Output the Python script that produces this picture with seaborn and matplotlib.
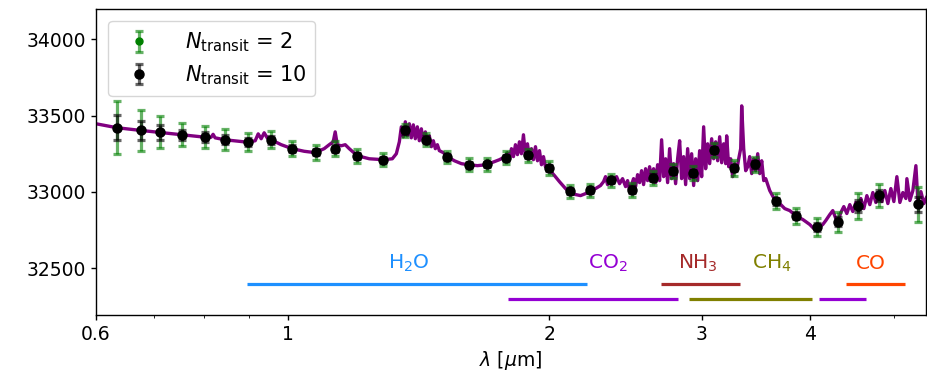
import numpy as np
import pandas as pd
import matplotlib
matplotlib.use("Agg")
import matplotlib.pyplot as plt
import matplotlib.ticker as mticker
from matplotlib.colors import to_rgba
import seaborn as sns

# ==========================================
# 1. DATA
# ==========================================
# high-resolution model spectrum: wavelength [um], transit depth [ppm]
spec_wl = [
    0.600, 0.6345, 0.6744, 0.7094, 0.7541, 0.8017, 0.8146, 0.8189, 0.8233, 0.8455,
    0.8989, 0.9158, 0.9231, 0.9305, 0.9379, 0.9454, 0.9555, 0.9813, 1.0103, 1.0430,
    1.0740, 1.0999, 1.1148, 1.1266, 1.1326, 1.1388, 1.1509, 1.1632, 1.1757, 1.2011,
    1.2400, 1.2869, 1.3181, 1.3323, 1.3430, 1.3501, 1.3573, 1.3645, 1.3718, 1.3791,
    1.3864, 1.3938, 1.4012, 1.4087, 1.4162, 1.4238, 1.4313, 1.4391, 1.4467, 1.4544,
    1.4622, 1.4699, 1.4778, 1.4857, 1.4936, 1.5095, 1.5257, 1.5544, 1.5836, 1.6134,
    1.6525, 1.6925, 1.7289, 1.7520, 1.7802, 1.7897, 1.7992, 1.8088, 1.8184, 1.8281,
    1.8379, 1.8476, 1.8575, 1.8674, 1.8774, 1.8874, 1.8974, 1.9075, 1.9177, 1.9280,
    1.9383, 1.9486, 1.9590, 1.9694, 1.9799, 1.9958, 2.0279, 2.0550, 2.0882, 2.1161,
    2.1444, 2.1730, 2.2022, 2.2316, 2.2615, 2.2917, 2.3100, 2.3224, 2.3348, 2.3535,
    2.3723, 2.3914, 2.4105, 2.4298, 2.4493, 2.4623, 2.4754, 2.4886, 2.5018, 2.5152,
    2.5287, 2.5421, 2.5557, 2.5693, 2.5830, 2.5968, 2.6106, 2.6245, 2.6385, 2.6526,
    2.6668, 2.6810, 2.6953, 2.7097, 2.7241, 2.7387, 2.7532, 2.7679, 2.7827, 2.7975,
    2.8125, 2.8275, 2.8425, 2.8577, 2.8729, 2.8883, 2.9037, 2.9191, 2.9347, 2.9503,
    2.9661, 2.9819, 2.9978, 3.0137, 3.0298, 3.0460, 3.0622, 3.0785, 3.0949, 3.1114,
    3.1281, 3.1447, 3.1615, 3.1783, 3.1953, 3.2039, 3.2209, 3.2381, 3.2553, 3.2727,
    3.2902, 3.3077, 3.3253, 3.3342, 3.3519, 3.3699, 3.3879, 3.4059, 3.4240, 3.4423,
    3.4607, 3.4791, 3.4976, 3.5163, 3.5350, 3.5540, 3.5920, 3.6498, 3.6887, 3.7382,
    3.7882, 3.8594, 3.9214, 3.9951, 4.0486, 4.0919, 4.1355, 4.1687, 4.2133, 4.2470,
    4.2811, 4.3039, 4.3384, 4.3730, 4.4082, 4.4434, 4.4789, 4.5150, 4.5390, 4.5753,
    4.6118, 4.6490, 4.6861, 4.7236, 4.7616, 4.7997, 4.8381, 4.8768, 4.9159, 4.9552,
    4.9949, 5.0350, 5.0752, 5.1158, 5.1570, 5.1707, 5.2120, 5.2537, 5.2959, 5.3242,
    5.3668, 5.4097, 5.4532,
]
spec_depth = [
    33446, 33420, 33403, 33390, 33374, 33358, 33358, 33377, 33354, 33341,
    33325, 33335, 33380, 33348, 33387, 33354, 33341, 33309, 33283, 33266,
    33257, 33283, 33309, 33328, 33393, 33309, 33302, 33309, 33283, 33237,
    33217, 33211, 33217, 33250, 33328, 33426, 33361, 33459, 33367, 33446,
    33354, 33439, 33348, 33426, 33335, 33413, 33328, 33393, 33309, 33367,
    33296, 33335, 33283, 33309, 33270, 33257, 33231, 33204, 33185, 33178,
    33172, 33178, 33198, 33211, 33231, 33257, 33217, 33283, 33231, 33309,
    33244, 33328, 33250, 33374, 33237, 33315, 33224, 33283, 33211, 33296,
    33204, 33270, 33178, 33231, 33165, 33152, 33107, 33067, 33022, 32996,
    32983, 32976, 32989, 33009, 33022, 33042, 33067, 33100, 33048, 33074,
    33061, 33100, 33054, 33087, 33035, 33074, 33009, 33048, 33087, 33035,
    33113, 33061, 33139, 33048, 33152, 33074, 33165, 33087, 33152, 33061,
    33178, 33074, 33341, 33100, 33217, 33061, 33283, 33087, 33185, 33054,
    33217, 33335, 33087, 33231, 33048, 33283, 33087, 33250, 33042, 33217,
    33074, 33270, 33100, 33426, 33152, 33315, 33185, 33348, 33217, 33328,
    33204, 33361, 33191, 33315, 33185, 33367, 33165, 33217, 33100, 33185,
    33139, 33217, 33283, 33563, 33283, 33139, 33165, 33231, 33120, 33217,
    33139, 33250, 33120, 33204, 33074, 33087, 33009, 32937, 32924, 32891,
    32878, 32839, 32820, 32787, 32754, 32767, 32787, 32813, 32852, 32878,
    32826, 32807, 32865, 32904, 32859, 32917, 32872, 32931, 32904, 32957,
    32891, 32976, 32917, 32996, 32931, 32983, 32937, 33009, 32924, 33022,
    32937, 33100, 32931, 32996, 32957, 33087, 32944, 33009, 33172, 32937,
    33002, 32924, 32970,
]

# binned points
bin_wl = [
    0.6345, 0.6753, 0.7105, 0.7541, 0.8017, 0.8449, 0.8996, 0.9555, 1.0110, 1.0762,
    1.1306, 1.2001, 1.2858, 1.3628, 1.4417, 1.5245, 1.6146, 1.6938, 1.7835, 1.8924,
    1.9973, 2.1144, 2.2298, 2.3580, 2.4890, 2.6313, 2.7775, 2.9293, 3.0949, 3.2668,
    3.4578, 3.6498, 3.8564, 4.0702, 4.3039, 4.5426, 4.7997, 5.3200,
]
bin_depth = [
    33420, 33402, 33392, 33374, 33359, 33343, 33327, 33341, 33283, 33260,
    33283, 33233, 33211, 33402, 33343, 33229, 33178, 33180, 33224, 33239,
    33157, 33004, 33011, 33076, 33015, 33094, 33136, 33124, 33274, 33157,
    33180, 32939, 32844, 32772, 32805, 32907, 32978, 32918,
]
err_n2 = [
    172, 133, 104, 75, 70, 66, 58, 55, 50, 48,
    48, 46, 44, 44, 44, 42, 42, 42, 42, 42,
    44, 44, 44, 44, 46, 46, 46, 46, 48, 50,
    50, 52, 54, 58, 64, 85, 75, 115,
]
err_n10 = [
    82, 64, 49, 34, 31, 29, 26, 25, 22, 21,
    21, 20, 20, 20, 20, 19, 19, 19, 19, 19,
    20, 20, 20, 20, 21, 21, 21, 21, 22, 22,
    22, 23, 24, 26, 28, 38, 34, 52,
]

# molecular band indicators
mol_colors = ["dodgerblue", "darkviolet", "brown", "olive", "darkviolet", "orangered"]
mol_start = [0.895, 1.794, 2.692, 2.895, 4.092, 4.397]
mol_end = [2.208, 2.812, 3.316, 4.022, 4.637, 5.143]
mol_level = [32400, 32300, 32400, 32300, 32300, 32400]
label_names = ["H$_2$O", "CO$_2$", "NH$_3$", "CH$_4$", "CO"]
label_colors = ["dodgerblue", "darkviolet", "brown", "olive", "orangered"]
label_wl = [1.377, 2.335, 2.966, 3.611, 4.699]

# ==========================================
# 2. STYLE
# ==========================================
sns.set_style("ticks", {"axes.edgecolor": "black", "xtick.color": "black",
                        "ytick.color": "black", "text.color": "black",
                        "axes.labelcolor": "black"})
plt.rcParams["font.family"] = ["DejaVu Sans"]
plt.rcParams["mathtext.fontset"] = "dejavusans"

fig = plt.figure(figsize=(9.28, 3.84), dpi=100)
ax = fig.add_axes([96 / 928, 1 - 315 / 384, 830 / 928, (315 - 8.5) / 384])

spec_df = pd.DataFrame({"wl": spec_wl, "depth": spec_depth})
sns.lineplot(data=spec_df, x="wl", y="depth", color="purple", lw=2.4,
             sort=False, estimator=None, ax=ax, zorder=2)

ax.errorbar(bin_wl, bin_depth, yerr=err_n2, fmt="o", color="green", ms=5,
            ecolor=to_rgba("green", 0.6), elinewidth=2.3, capsize=3,
            capthick=2.3, zorder=3, label=r"$N_{\rm transit}$ = 2")
ax.errorbar(bin_wl, bin_depth, yerr=err_n10, fmt="o", color="black", ms=6.5,
            ecolor=to_rgba("black", 0.6), elinewidth=2.3, capsize=3,
            capthick=2.3, zorder=4, label=r"$N_{\rm transit}$ = 10")

for s, e, lev, c in zip(mol_start, mol_end, mol_level, mol_colors):
    ax.hlines(lev, s, e, color=c, lw=2.3)
for name, c, w in zip(label_names, label_colors, label_wl):
    ax.text(w, 32495, name, color=c, fontsize=14.5, ha="center", va="baseline")

ax.set_xscale("log")
ax.set_xlim(0.6, 5.44)
ax.set_ylim(32195, 34200)
ax.set_xticks([0.6, 1, 2, 3, 4])
ax.set_xticks([0.7, 0.8, 0.9, 5], minor=True)
ax.xaxis.set_major_formatter(mticker.FixedFormatter(["0.6", "1", "2", "3", "4"]))
ax.xaxis.set_minor_formatter(mticker.NullFormatter())
ax.set_yticks([32500, 33000, 33500, 34000])
ax.tick_params(labelsize=13.5, width=1.0)
ax.set_xlabel(r"$\lambda$ [$\mu$m]", fontsize=13.5)
ax.set_ylabel("")
for sp in ax.spines.values():
    sp.set_linewidth(1.0)

ax.legend(loc="upper left", fontsize=15, frameon=True, handletextpad=1.2,
          labelspacing=0.45, borderaxespad=0.6, borderpad=0.45)

fig.savefig("out.png", dpi=100)
